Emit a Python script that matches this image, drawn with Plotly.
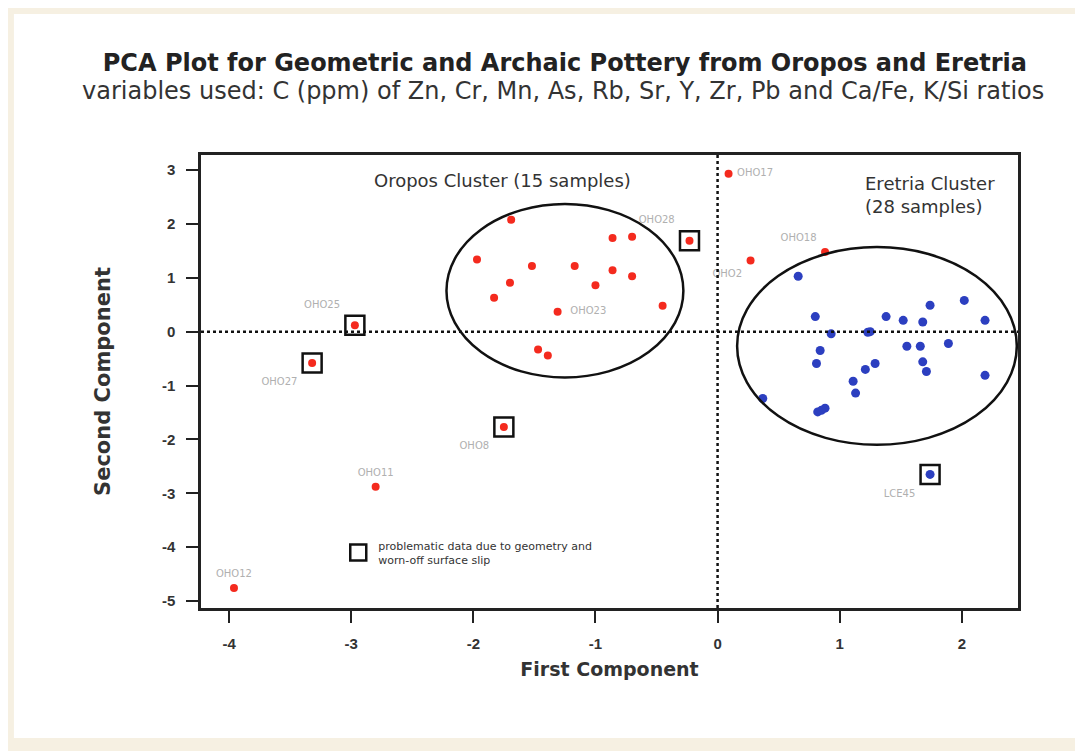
import plotly.graph_objects as go

# ---------------- data ----------------
# Oropos cluster (15 samples inside the ellipse)
oropos_x = [-1.69, -0.86, -0.70, -1.97, -1.52, -1.17, -0.86, -0.70, -1.70, -1.00, -1.83, -1.31, -0.45, -1.47, -1.39]
oropos_y = [2.08, 1.74, 1.76, 1.34, 1.22, 1.22, 1.14, 1.03, 0.91, 0.86, 0.63, 0.37, 0.48, -0.33, -0.44]

# Labelled Oropos samples outside the cluster
red_names = ["OHO25", "OHO27", "OHO28", "OHO8", "OHO11", "OHO12", "OHO17", "OHO2", "OHO18"]
red_x = [-2.97, -3.32, -0.23, -1.75, -2.80, -3.96, 0.09, 0.27, 0.88]
red_y = [0.12, -0.58, 1.69, -1.77, -2.88, -4.76, 2.93, 1.32, 1.48]
red_boxed = [True, True, True, True, False, False, False, False, False]
red_textpos = ["top left", "bottom left", "top left", "bottom left", "top center",
               "top center", "middle right", "bottom left", "top left"]

# Eretria cluster (28 samples)
eretria_x = [0.66, 0.80, 0.93, 1.23, 1.38, 1.52, 1.68, 1.74, 2.02, 2.19, 0.84, 0.81, 1.55, 1.66,
             1.89, 1.29, 1.21, 1.68, 1.71, 2.19, 1.11, 1.13, 0.37, 0.82, 0.88, 0.85, 1.25, 1.74]
eretria_y = [1.03, 0.28, -0.04, -0.01, 0.28, 0.21, 0.18, 0.49, 0.58, 0.21, -0.35, -0.59, -0.27, -0.27,
             -0.22, -0.59, -0.70, -0.56, -0.74, -0.81, -0.92, -1.14, -1.24, -1.49, -1.42, -1.46, 0.0, -2.65]
eretria_label_idx = 27
eretria_label = "LCE45"

# label on a cluster sample
oropos_label_idx = 11
oropos_label = "OHO23"

# problematic samples (boxed)
prob_x = [-2.97, -3.32, -0.23, -1.75, 1.74]
prob_y = [0.12, -0.58, 1.69, -1.77, -2.65]
legend_text = "problematic data due to geometry and<br>worn-off surface slip"

# cluster ellipses: x0, x1, y0, y1
oropos_ellipse = [-2.22, -0.28, -0.85, 2.37]
eretria_ellipse = [0.16, 2.45, -2.10, 1.57]

x_ticks = [-4, -3, -2, -1, 0, 1, 2]
y_ticks = [3, 2, 1, 0, -1, -2, -3, -4, -5]

RED = "#f42a1e"
BLUE = "#2c3fc0"
LABEL = "#b0b0b0"
SANS = "DejaVu Sans, Liberation Sans, Arial"

fig = go.Figure()

# white inner page area over beige background
fig.add_shape(type="rect", xref="paper", yref="paper", x0=-0.229, x1=1.09, y0=-0.287, y1=1.311,
              fillcolor="white", line=dict(width=0), layer="below")

# reference dotted lines
fig.add_hline(y=0, line=dict(color="#111", width=2.5, dash="dot"))
fig.add_vline(x=0, line=dict(color="#111", width=2.5, dash="dot"))

# ellipses
for e in (oropos_ellipse, eretria_ellipse):
    fig.add_shape(type="circle", xref="x", yref="y", x0=e[0], x1=e[1], y0=e[2], y1=e[3],
                  line=dict(color="#111", width=2.5))

font_lbl = dict(family=SANS, size=10, color=LABEL)

fig.add_trace(go.Scatter(x=oropos_x, y=oropos_y, mode="markers",
                         marker=dict(color=RED, size=8), showlegend=False, hoverinfo="skip"))
fig.add_trace(go.Scatter(x=[oropos_x[oropos_label_idx]], y=[oropos_y[oropos_label_idx]], mode="text",
                         text=["    " + oropos_label], textposition="middle right",
                         textfont=font_lbl, showlegend=False))
fig.add_trace(go.Scatter(x=red_x, y=red_y, mode="markers", marker=dict(color=RED, size=8),
                         showlegend=False))
# label trace: invisible markers sized like the boxes so the labels clear them
fig.add_trace(go.Scatter(x=red_x, y=red_y, mode="markers+text", text=red_names,
                         textposition=red_textpos, textfont=font_lbl,
                         marker=dict(size=[22 if b else 12 for b in red_boxed], opacity=0),
                         showlegend=False, hoverinfo="skip"))
fig.add_trace(go.Scatter(x=eretria_x, y=eretria_y, mode="markers",
                         marker=dict(color=BLUE, size=9), showlegend=False))
fig.add_trace(go.Scatter(x=[eretria_x[eretria_label_idx]], y=[eretria_y[eretria_label_idx]],
                         mode="markers+text", text=[eretria_label], textposition="bottom left",
                         marker=dict(size=22, opacity=0),
                         textfont=font_lbl, showlegend=False, hoverinfo="skip"))
fig.add_trace(go.Scatter(x=prob_x, y=prob_y, mode="markers", name=legend_text,
                         marker=dict(symbol="square-open", size=19, color="#111",
                                     line=dict(width=2.5, color="#111")),
                         showlegend=True))

fig.add_annotation(x=-1.76, y=2.80, xref="x", yref="y", text="Oropos Cluster (15 samples)",
                   showarrow=False, font=dict(family=SANS, size=18, color="#333"))
fig.add_annotation(x=1.19, y=2.54, xref="x", yref="y", text="Eretria Cluster<br>(28 samples)",
                   showarrow=False, xanchor="left", align="left",
                   font=dict(family=SANS, size=18, color="#333"))

fig.update_layout(
    width=1075, height=743,
    margin=dict(l=193, r=65, t=147, b=143),
    paper_bgcolor="#f6f0e2",
    plot_bgcolor="white",
    title=dict(text="<b>PCA Plot for Geometric and Archaic Pottery from Oropos and Eretria</b>",
               x=0.518, xanchor="center", y=0.927, yanchor="middle",
               font=dict(family=SANS, size=24, color="#222")),
    legend=dict(x=0.168, y=0.122, xanchor="left", yanchor="middle", bgcolor="rgba(0,0,0,0)",
                font=dict(family=SANS, size=11, color="#333")),
    font=dict(family=SANS),
)
fig.add_annotation(xref="paper", yref="paper", x=-0.148, y=1.141, xanchor="left", yanchor="middle",
                   text="variables used: C (ppm) of Zn, Cr, Mn, As, Rb, Sr, Y, Zr, Pb and Ca/Fe, K/Si ratios",
                   showarrow=False, font=dict(family=SANS, size=24, color="#333"))

axis_common = dict(showline=True, linecolor="#222", linewidth=2.5, mirror=True, showgrid=False,
                   zeroline=False, ticks="outside", ticklen=12, tickwidth=2, tickcolor="#222",
                   ticklabelstandoff=8,
                   tickfont=dict(family="Liberation Sans, Arial", size=15, color="#333"))
fig.update_xaxes(range=[-4.23, 2.46], tickvals=x_ticks, ticktext=["<b>%d</b>" % t for t in x_ticks],
                 title=dict(text="<b>First Component</b>", standoff=12,
                            font=dict(family=SANS, size=19, color="#333")),
                 **axis_common)
fig.update_yaxes(range=[-5.13, 3.28], tickvals=y_ticks, ticktext=["<b>%d</b>" % t for t in y_ticks],
                 title=dict(text="<b>Second Component</b>", standoff=46,
                            font=dict(family=SANS, size=21, color="#333")),
                 **axis_common)

fig.write_html("out.html")
